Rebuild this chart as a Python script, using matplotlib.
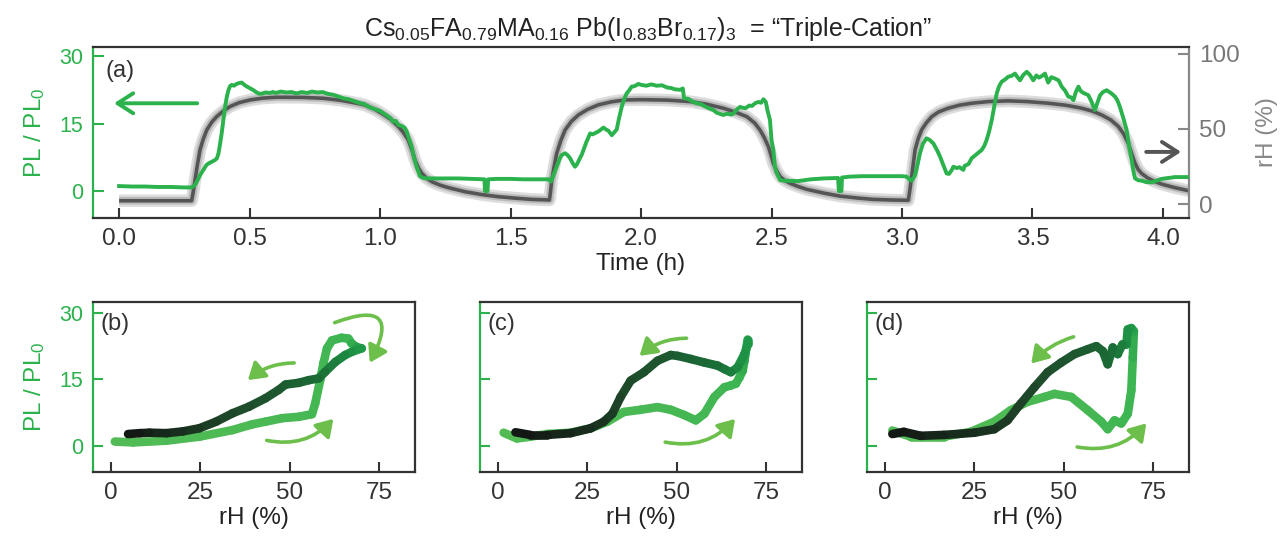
import numpy as np
import matplotlib
matplotlib.use('Agg')
import matplotlib.pyplot as plt
from matplotlib.collections import LineCollection
from matplotlib.colors import LinearSegmentedColormap
from matplotlib.patches import FancyArrowPatch

plt.rcParams['font.family'] = ['Liberation Sans', 'DejaVu Sans']
plt.rcParams['mathtext.fontset'] = 'custom'
plt.rcParams['mathtext.rm'] = 'Liberation Sans'
plt.rcParams['mathtext.it'] = 'Liberation Sans:italic'
plt.rcParams['mathtext.bf'] = 'Liberation Sans:bold'

# ---- (a) PL/PL0 vs time ----
t_pl = [0.00, 0.05, 0.10, 0.15, 0.20, 0.25, 0.278, 0.29, 0.298, 0.31, 0.323, 0.335, 0.342, 0.355,
        0.368, 0.375, 0.381, 0.387, 0.393, 0.40, 0.406, 0.413, 0.419, 0.425, 0.432, 0.44, 0.45,
        0.46, 0.47, 0.48, 0.49, 0.50, 0.515, 0.53, 0.54, 0.55, 0.56, 0.578, 0.59, 0.60, 0.62,
        0.64, 0.66, 0.68, 0.70, 0.72, 0.74, 0.76, 0.78, 0.80, 0.82, 0.84, 0.86, 0.88, 0.90,
        0.92, 0.94, 0.96, 0.98, 1.00, 1.02, 1.04, 1.05, 1.06, 1.07, 1.085, 1.095, 1.102, 1.11,
        1.121, 1.13, 1.14, 1.153, 1.165, 1.18, 1.25, 1.30, 1.35, 1.40, 1.402, 1.412, 1.414,
        1.45, 1.50, 1.55, 1.60, 1.645, 1.655, 1.665, 1.677, 1.687, 1.696, 1.709, 1.718, 1.728,
        1.738, 1.747, 1.755, 1.765, 1.773, 1.79, 1.805, 1.815, 1.825, 1.835, 1.845, 1.856,
        1.865, 1.875, 1.888, 1.897, 1.907, 1.915, 1.926, 1.935, 1.945, 1.955, 1.964, 1.975,
        1.99, 2.00, 2.02, 2.04, 2.06, 2.08, 2.10, 2.115, 2.13, 2.15, 2.16, 2.165, 2.18, 2.20,
        2.213, 2.23, 2.245, 2.26, 2.277, 2.29, 2.30, 2.315, 2.33, 2.345, 2.354, 2.365, 2.379,
        2.39, 2.40, 2.415, 2.425, 2.437, 2.45, 2.46, 2.469, 2.478, 2.485, 2.494, 2.50, 2.507,
        2.513, 2.52, 2.533, 2.55, 2.60, 2.65, 2.70, 2.755, 2.758, 2.768, 2.77, 2.80, 2.85,
        2.90, 2.95, 3.00, 3.018, 3.03, 3.037, 3.05, 3.06, 3.069, 3.08, 3.094, 3.105, 3.12,
        3.135, 3.146, 3.16, 3.171, 3.18, 3.19, 3.197, 3.21, 3.22, 3.235, 3.24, 3.255, 3.267,
        3.28, 3.29, 3.305, 3.315, 3.324, 3.334, 3.344, 3.354, 3.363, 3.372, 3.382, 3.395,
        3.407, 3.42, 3.433, 3.44, 3.452, 3.465, 3.478, 3.49, 3.503, 3.515, 3.525, 3.537,
        3.548, 3.56, 3.572, 3.586, 3.60, 3.612, 3.625, 3.637, 3.648, 3.657, 3.666, 3.676,
        3.685, 3.695, 3.714, 3.725, 3.739, 3.75, 3.759, 3.77, 3.784, 3.80, 3.816, 3.825,
        3.835, 3.848, 3.861, 3.87, 3.88, 3.888, 3.893, 3.905, 3.918, 3.935, 3.956, 3.975,
        3.995, 4.02, 4.046, 4.07, 4.10]
pl = [1.1, 1.0, 1.0, 0.9, 0.9, 0.8, 0.8, 1.3, 2.1, 3.5, 4.7, 5.8, 6.1, 6.5,
      6.9, 7.3, 8.4, 10.5, 12.8, 16.0, 18.7, 21.0, 22.4, 23.3, 23.6, 23.4, 23.8,
      24.0, 24.1, 23.6, 23.2, 22.9, 22.4, 21.8, 21.6, 21.7, 21.9, 21.8, 22.0, 21.8, 22.1,
      21.9, 22.0, 21.7, 22.0, 21.8, 22.1, 21.9, 22.0, 21.6, 21.4, 21.0, 20.6, 20.4, 20.0,
      19.6, 19.3, 18.6, 18.2, 17.8, 17.0, 16.2, 15.4, 15.6, 14.7, 14.4, 14.0, 13.2, 11.8,
      9.9, 7.5, 5.4, 3.3, 2.9, 2.8, 2.8, 2.8, 2.7, 2.6, 0.0, 0.0, 2.6,
      2.7, 2.7, 2.6, 2.6, 2.6, 2.1, 3.6, 5.4, 7.0, 8.0, 8.4, 8.0, 7.3,
      6.2, 5.4, 6.0, 7.2, 8.1, 10.8, 12.8, 12.6, 12.9, 13.2, 13.6, 14.1,
      13.7, 13.4, 12.4, 13.0, 13.7, 16.0, 18.7, 20.4, 21.7, 22.4, 23.2, 23.3,
      23.8, 23.6, 23.4, 23.7, 23.4, 23.5, 23.0, 22.9, 22.6, 22.5, 22.8, 20.6, 20.5, 19.8,
      19.5, 19.3, 18.8, 18.4, 18.0, 17.4, 17.2, 16.9, 17.2, 17.0, 17.2, 18.0, 18.7,
      18.5, 18.4, 19.0, 18.9, 19.5, 19.8, 19.6, 20.4, 19.8, 17.8, 15.8, 11.3, 9.1,
      5.4, 4.0, 2.4, 2.3, 2.2, 2.6, 2.8, 2.9, 0.0, 0.0, 3.0, 3.2, 3.3,
      3.3, 3.3, 3.3, 3.2, 2.5, 2.3, 3.5, 6.0, 8.4, 10.5, 11.7, 11.4, 10.6,
      9.0, 7.6, 5.5, 3.9, 3.8, 4.6, 5.4, 5.1, 5.3, 4.7, 5.6, 6.0, 7.3,
      7.9, 8.4, 9.1, 10.0, 11.3, 13.3, 15.8, 19.0, 21.7, 23.3, 24.3, 24.8,
      25.4, 25.6, 26.1, 25.5, 24.6, 25.8, 26.5, 25.8, 24.6, 25.7, 25.2, 25.6,
      26.1, 24.1, 25.3, 25.0, 24.6, 23.2, 22.3, 21.0, 20.8, 20.2, 22.0, 23.2,
      22.2, 21.8, 21.3, 20.0, 18.0, 19.8, 21.3, 22.0, 22.4, 21.8, 21.0, 20.2,
      18.7, 16.2, 13.5, 10.0, 6.9, 4.0, 2.8, 2.4, 2.3, 2.0, 1.9, 2.3,
      2.7, 2.9, 3.1, 3.1, 3.1]

# ---- (a) rH vs time ----
t_rh = [0.00, 0.278, 0.284, 0.291, 0.30, 0.31, 0.322, 0.336, 0.355, 0.374, 0.40, 0.425, 0.46,
        0.502, 0.55, 0.604, 0.70, 0.783, 0.85, 0.911, 0.94, 0.98, 1.006, 1.04, 1.07, 1.09,
        1.108, 1.122, 1.134, 1.147, 1.16, 1.178, 1.198, 1.23, 1.262, 1.326, 1.39, 1.453,
        1.52, 1.581, 1.649, 1.653, 1.658, 1.667, 1.677, 1.692, 1.709, 1.733, 1.76, 1.795,
        1.836, 1.885, 1.939, 2.0, 2.1, 2.188, 2.25, 2.315, 2.36, 2.405, 2.435, 2.456, 2.473,
        2.488, 2.498, 2.507, 2.52, 2.533, 2.55, 2.571, 2.60, 2.635, 2.70, 2.762, 2.83, 2.89,
        2.96, 3.024, 3.029, 3.036, 3.043, 3.05, 3.062, 3.075, 3.093, 3.114, 3.14, 3.177,
        3.22, 3.267, 3.33, 3.407, 3.48, 3.561, 3.63, 3.688, 3.73, 3.765, 3.80, 3.829, 3.85,
        3.867, 3.88, 3.893, 3.905, 3.918, 3.94, 3.969, 4.0, 4.046, 4.1]
rh = [2.2, 2.2, 8.0, 16.0, 26.0, 36.0, 43.0, 49.3, 54.5, 58.2, 62.0, 64.9, 67.5,
      69.3, 70.5, 71.1, 71.0, 70.4, 69.0, 67.1, 66.0, 63.0, 60.4, 56.5, 51.6, 47.5,
      42.7, 36.0, 29.3, 24.0, 20.4, 17.3, 14.9, 12.6, 10.9, 8.2, 6.3, 4.9,
      3.9, 3.1, 2.7, 8.0, 16.0, 25.0, 33.8, 42.0, 49.3, 55.0, 59.3, 63.0,
      66.0, 68.0, 69.3, 69.5, 69.2, 68.2, 66.5, 63.8, 61.3, 58.2, 54.0, 49.3, 44.0,
      38.2, 32.5, 27.1, 22.0, 18.2, 15.8, 13.8, 11.8, 9.8, 7.3, 5.3, 4.0, 3.1,
      2.7, 2.5, 8.0, 17.0, 26.5, 36.0, 43.5, 49.3, 54.0, 58.2, 61.3, 63.8,
      65.8, 67.1, 68.2, 68.7, 68.2, 67.1, 65.7, 63.8, 61.8, 59.3, 56.0, 51.6, 46.5,
      40.4, 33.5, 27.1, 23.0, 20.4, 17.5, 14.9, 13.0, 10.9, 8.8]

# ---- (b)-(d) hysteresis loops: rising rH branch, then falling branch ----
b_up_rh = [1.1, 6.2, 15.5, 24.7, 34.0, 39.5, 43.2, 47.9, 52.5, 56.2, 57.1, 58.5, 59.4, 60.4,
           61.8, 64.5, 66.4, 67.3, 68.7, 70.1]
b_up_pl = [0.9, 0.7, 1.1, 2.0, 3.5, 4.8, 5.4, 6.2, 6.5, 7.1, 9.5, 14.8, 18.6, 22.0,
           23.8, 24.4, 24.2, 23.1, 22.3, 22.0]
b_dn_rh = [70.1, 67.3, 65.5, 62.7, 59.9, 58.1, 55.3, 52.5, 48.8, 46.9, 43.2, 38.6, 34.0,
           29.4, 24.7, 20.1, 15.5, 10.8, 8.1, 4.8]
b_dn_pl = [22.0, 21.2, 20.5, 18.9, 16.7, 15.2, 14.8, 14.2, 13.8, 12.6, 10.7, 8.8, 7.3,
           5.4, 3.9, 3.2, 2.8, 2.9, 2.8, 2.6]

c_up_rh = [1.6, 5.3, 9.1, 13.7, 20.3, 25.9, 30.6, 35.2, 39.9, 44.6, 48.3, 52.1, 55.3, 57.7,
           60.5, 63.3, 65.1, 66.5, 67.5, 68.4, 68.9, 69.8]
c_up_pl = [2.9, 1.6, 2.0, 2.6, 2.9, 3.9, 5.4, 7.6, 8.1, 8.7, 8.1, 6.9, 5.7, 7.2,
           11.0, 13.2, 13.6, 14.0, 15.4, 16.9, 19.2, 24.0]
c_dn_rh = [69.8, 68.9, 67.0, 65.1, 63.3, 61.4, 57.7, 53.9, 50.2, 48.3, 44.6, 40.8, 37.1,
           34.3, 32.0, 29.6, 25.9, 20.3, 13.7, 9.1, 4.9]
c_dn_pl = [22.9, 20.7, 17.7, 16.6, 17.3, 18.1, 18.8, 19.6, 20.3, 20.5, 19.2, 16.6, 14.7,
           11.0, 7.2, 5.4, 3.9, 2.8, 2.4, 2.4, 3.0]

d_up_rh = [2.1, 7.2, 16.5, 24.0, 30.6, 35.2, 39.9, 44.6, 47.4, 52.1, 56.7, 60.5, 62.3, 64.2,
           66.1, 67.9, 68.9, 69.3, 69.6, 68.9]
d_up_pl = [3.4, 2.0, 2.0, 3.1, 5.4, 8.0, 9.9, 11.0, 11.7, 11.0, 8.0, 5.4, 3.7, 5.7,
           5.0, 7.2, 12.5, 19.9, 25.9, 26.6]
d_dn_rh = [68.9, 67.9, 67.5, 66.4, 65.1, 63.7, 62.3, 60.9, 59.1, 56.7, 53.0, 49.3, 45.5,
           41.8, 38.0, 34.3, 30.6, 25.0, 16.5, 10.0, 5.3, 2.1]
d_dn_pl = [26.6, 26.3, 22.9, 22.9, 20.7, 22.2, 18.4, 21.4, 22.5, 21.8, 20.7, 18.8, 16.6,
           13.2, 9.5, 5.7, 3.7, 2.9, 2.4, 2.2, 3.1, 2.6]

GREEN = '#2bb24c'
ARROW_GREEN = '#6cbf4a'
GRAY = '#888888'
DARK = '#333333'

fig = plt.figure(figsize=(12.88, 5.37), dpi=100)

# ---------------- top panel ----------------
ax = fig.add_axes([0.0722, 0.594, 0.851, 0.3184])
ax2 = ax.twinx()
ax.set_zorder(ax2.get_zorder() + 1)
ax.patch.set_visible(False)

ax2.plot(t_rh, rh, color='#aaaaaa', lw=9, alpha=0.4, solid_capstyle='butt')
ax2.plot(t_rh, rh, color='#999999', lw=5.5, alpha=0.5, solid_capstyle='butt')
ax2.plot(t_rh, rh, color='#555555', lw=2.6, solid_capstyle='butt')
ax.plot(t_pl, pl, color=GREEN, lw=2.8)

ax.set_xlim(-0.1, 4.1)
ax.set_ylim(-6, 32)
ax2.set_ylim(-9.3, 104.5)
ax.set_xticks(np.arange(0, 4.01, 0.5))
ax.set_xticklabels(['%.1f' % v for v in np.arange(0, 4.01, 0.5)])
ax.set_yticks([0, 15, 30])
ax2.set_yticks([0, 50, 100])

for s in ['top', 'bottom']:
    ax.spines[s].set_color(DARK)
    ax.spines[s].set_linewidth(1.6)
ax.spines['left'].set_color(GREEN)
ax.spines['left'].set_linewidth(1.6)
ax.spines['right'].set_visible(False)
for s in ['top', 'bottom', 'left']:
    ax2.spines[s].set_visible(False)
ax2.spines['right'].set_color(GRAY)
ax2.spines['right'].set_linewidth(1.6)

ax.tick_params(axis='x', direction='in', length=7, width=1.5, color=DARK, labelcolor=DARK,
               labelsize=17.5, pad=7)
ax.tick_params(axis='y', direction='in', length=8, width=1.5, color=GREEN, labelcolor=GREEN,
               labelsize=15.5, pad=7)
ax2.tick_params(axis='y', direction='in', length=8, width=1.5, color=GRAY, labelcolor='#777777',
                labelsize=17.5, pad=7)

ax.set_xlabel('Time (h)', fontsize=17.5, color='#222222', labelpad=2)
ax.set_ylabel('PL / PL$_0$', fontsize=17.5, color=GREEN, labelpad=9)
ax2.set_ylabel('rH (%)', fontsize=17.5, color=GRAY, labelpad=12)

ax.text(0.011, 0.925, '(a)', transform=ax.transAxes, fontsize=17, color=DARK, va='top')
ax.annotate('', xy=(-0.03, 19.5), xytext=(0.31, 19.5),
            arrowprops=dict(arrowstyle='->,head_length=0.7,head_width=0.45', color=GREEN,
                            lw=2.8, mutation_scale=16))
ax2.annotate('', xy=(4.08, 34.7), xytext=(3.925, 34.7),
             arrowprops=dict(arrowstyle='->,head_length=0.7,head_width=0.45', color='#555555',
                             lw=2.8, mutation_scale=16))

fig.text(0.503, 0.933,
         r'Cs$_{0.05}$FA$_{0.79}$MA$_{0.16}$ Pb(I$_{0.83}$Br$_{0.17}$)$_3$  = “Triple-Cation”',
         ha='center', va='baseline', fontsize=18, color='#222222')

# ---------------- bottom panels ----------------
cmap = LinearSegmentedColormap.from_list(
    'loop', [(0.0, '#52bb55'), (0.42, '#3cb552'), (0.5, '#1f9a48'),
             (0.62, '#1b6e37'), (0.8, '#1f4a2a'), (1.0, '#111111')])


def loop_panel(axb, up_rh, up_pl, dn_rh, dn_pl, letter, arrows, first):
    xs = np.array(up_rh + dn_rh)
    ys = np.array(up_pl + dn_pl)
    pts = np.column_stack([xs, ys])
    segs = np.stack([pts[:-1], pts[1:]], axis=1)
    n_up = len(up_rh)
    frac = np.concatenate([np.linspace(0, 0.5, n_up), np.linspace(0.5, 1, len(dn_rh))])
    lc = LineCollection(segs, colors=cmap(frac[:-1]), linewidths=6.2, capstyle='round',
                        joinstyle='round')
    axb.add_collection(lc)

    for (a, b, r) in arrows:
        axb.add_patch(FancyArrowPatch(a, b, connectionstyle='arc3,rad=%s' % r,
                                      arrowstyle='-|>,head_length=0.55,head_width=0.35',
                                      mutation_scale=18, color=ARROW_GREEN, lw=2.6))

    axb.set_xlim(-5, 85)
    axb.set_ylim(-6, 32.5)
    axb.set_xticks([0, 25, 50, 75])
    axb.set_yticks([0, 15, 30])
    for s in ['top', 'bottom', 'right']:
        axb.spines[s].set_color(DARK)
        axb.spines[s].set_linewidth(1.6)
    axb.spines['left'].set_color(GREEN)
    axb.spines['left'].set_linewidth(1.6)
    axb.tick_params(axis='x', direction='in', length=7, width=1.5, color=DARK, labelcolor=DARK,
                    labelsize=17.5, pad=7)
    axb.tick_params(axis='y', direction='in', length=7, width=1.5, color=GREEN, labelcolor=GREEN,
                    labelsize=15.5, pad=7)
    axb.set_xlabel('rH (%)', fontsize=17.5, color='#222222', labelpad=2)
    if first:
        axb.set_ylabel('PL / PL$_0$', fontsize=17.5, color=GREEN, labelpad=9)
    else:
        axb.set_yticklabels([])
    axb.text(0.022, 0.935, letter, transform=axb.transAxes, fontsize=17, color=DARK, va='top')


axb = fig.add_axes([0.0722, 0.121, 0.25, 0.3166])
loop_panel(axb, b_up_rh, b_up_pl, b_dn_rh, b_dn_pl, '(b)',
           [((61.8, 27.6), (72, 18.2), -1.35), ((52, 18.7), (37.7, 14.4), 0.2),
            ((42.8, 1.3), (62.7, 6.5), 0.3)], True)
axc = fig.add_axes([0.3727, 0.121, 0.25, 0.3166])
loop_panel(axc, c_up_rh, c_up_pl, c_dn_rh, c_dn_pl, '(c)',
           [((53.5, 24.3), (39, 19.9), 0.2), ((46, 0.9), (66.8, 6.5), 0.3)], False)
axd = fig.add_axes([0.6731, 0.121, 0.25, 0.3166])
loop_panel(axd, d_up_rh, d_up_pl, d_dn_rh, d_dn_pl, '(d)',
           [((53.5, 24.8), (40.4, 18.1), 0.15), ((53, -0.2), (73.6, 5.5), 0.3)], False)

fig.savefig('out.png', dpi=100)
